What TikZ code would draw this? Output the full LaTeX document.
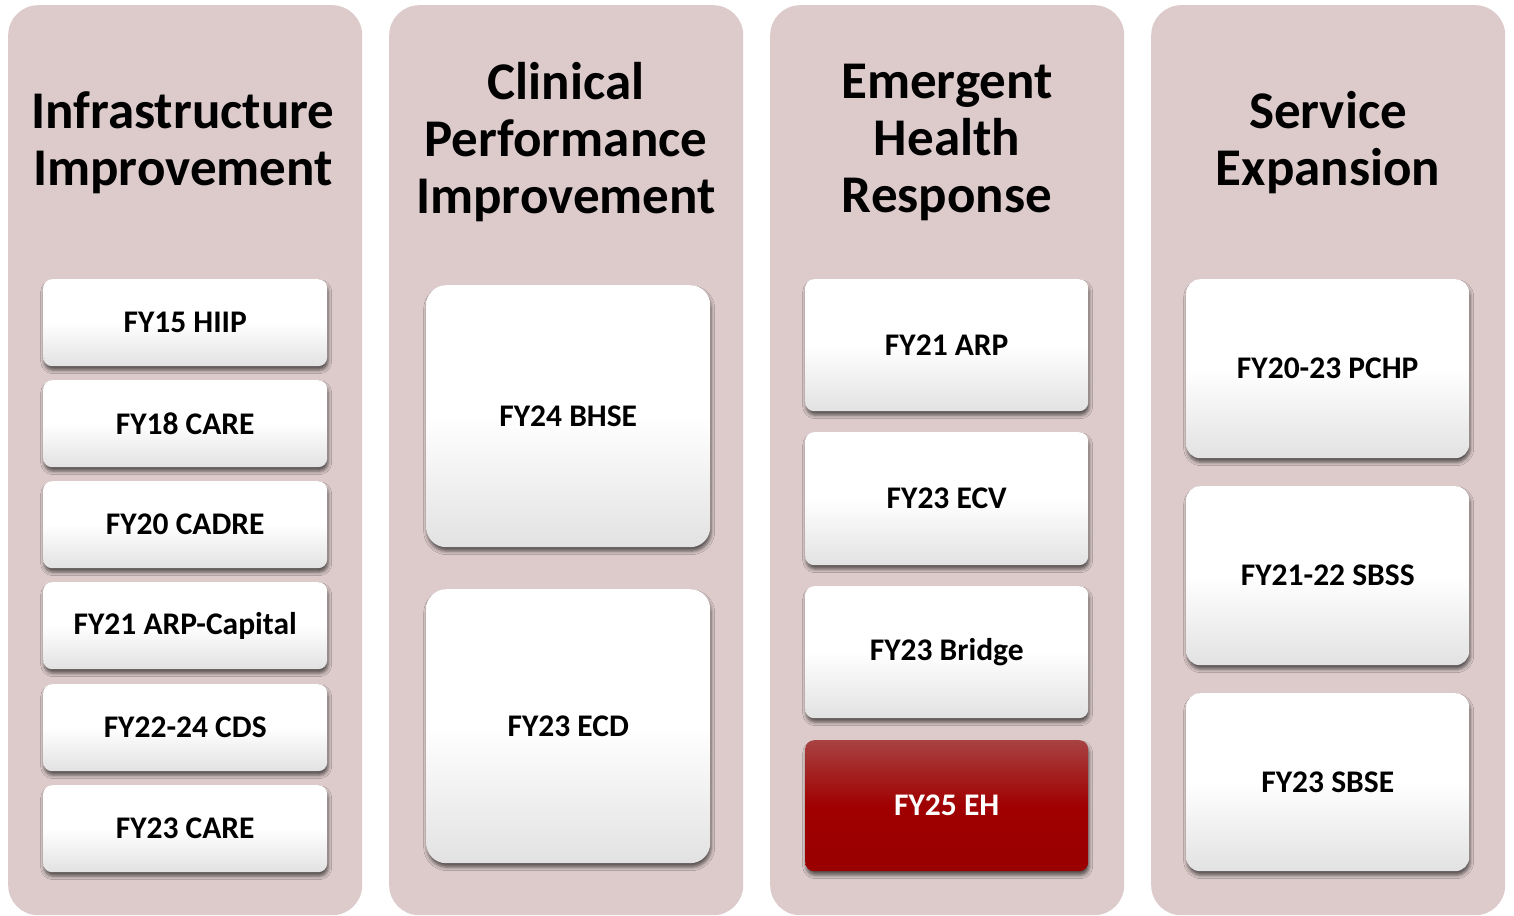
\documentclass[tikz,border=0pt]{standalone}
\usepackage{fontspec}
\setmainfont{Carlito}
\usetikzlibrary{shadows.blur}
\definecolor{panelc}{HTML}{DDCBCB}
\definecolor{boxbot}{HTML}{E2E2E2}
\definecolor{redtop}{HTML}{A84242}
\definecolor{redmid}{HTML}{A00000}
\definecolor{redbot}{HTML}{990000}
\pgfdeclareverticalshading{whitebox}{100bp}{color(0bp)=(boxbot); color(25bp)=(boxbot); color(50bp)=(white); color(100bp)=(white)}
\pgfdeclareverticalshading{redbox}{100bp}{color(0bp)=(redbot); color(25bp)=(redbot); color(50bp)=(redmid); color(75bp)=(redtop); color(100bp)=(redtop)}
\tikzset{
  panel/.style={anchor=north west, fill=panelc, rounded corners=30pt, minimum width=354pt, inner sep=0pt},
  ptitle/.style={anchor=center, align=center, font=\fontsize{53}{57}\selectfont\bfseries},
  wbox/.style={anchor=north west, shading=whitebox, rounded corners=#1, inner sep=0pt,
     font=\fontsize{31.5}{36}\selectfont\bfseries,
     blur shadow={shadow xshift=1pt, shadow yshift=-4pt, shadow blur radius=3.5pt, shadow opacity=60}},
  wbox/.default=9pt,
  rbox/.style={wbox=#1, shading=redbox, text=white},
  rbox/.default=9pt
}
\begin{document}
\begin{tikzpicture}[x=1pt,y=-1pt]
\useasboundingbox[fill=white] (0,0) rectangle (1514,915);
% panels
\node[panel, minimum height=910pt] (p1) at (8,5) {};
\node[panel, minimum height=910pt] (p2) at (389,5) {};
\node[panel, minimum height=910pt] (p3) at (770,5) {};
\node[panel, minimum height=910pt] (p4) at (1151,5) {};
% titles
\node[ptitle] (t1) at (183,142.5) {Infrastructure\\Improvement};
\node[ptitle] (t2) at (566,142) {Clinical\\Performance\\Improvement};
\node[ptitle] (t3) at (947,142) {Emergent\\Health\\Response};
\node[ptitle] (t4) at (1328,142.5) {Service\\Expansion};
% column 1
\node[wbox, minimum width=284pt, minimum height=87pt] (a1) at (43,279) {FY15 HIIP};
\node[wbox, minimum width=284pt, minimum height=87pt] (a2) at (43,380) {FY18 CARE};
\node[wbox, minimum width=284pt, minimum height=87pt] (a3) at (43,481) {FY20 CADRE};
\node[wbox, minimum width=284pt, minimum height=87pt] (a4) at (43,582) {FY21 ARP-Capital};
\node[wbox, minimum width=284pt, minimum height=87pt] (a5) at (43,684) {FY22-24 CDS};
\node[wbox, minimum width=284pt, minimum height=87pt] (a6) at (43,785) {FY23 CARE};
% column 2
\node[wbox=20pt, minimum width=284pt, minimum height=262pt] (b1) at (426,285) {FY24 BHSE};
\node[wbox=20pt, minimum width=284pt, minimum height=274pt] (b2) at (426,589) {FY23 ECD};
% column 3
\node[wbox, minimum width=283pt, minimum height=132pt] (c1) at (805,279) {FY21 ARP};
\node[wbox, minimum width=283pt, minimum height=133pt] (c2) at (805,432) {FY23 ECV};
\node[wbox, minimum width=283pt, minimum height=132pt] (c3) at (805,586) {FY23 Bridge};
\node[rbox, minimum width=283pt, minimum height=131pt] (c4) at (805,740) {FY25 EH};
% column 4
\node[wbox=14pt, minimum width=283pt, minimum height=179pt] (d1) at (1186,279) {FY20-23 PCHP};
\node[wbox=14pt, minimum width=283pt, minimum height=179pt] (d2) at (1186,486) {FY21-22 SBSS};
\node[wbox=14pt, minimum width=283pt, minimum height=178pt] (d3) at (1186,693) {FY23 SBSE};
\end{tikzpicture}
\end{document}
